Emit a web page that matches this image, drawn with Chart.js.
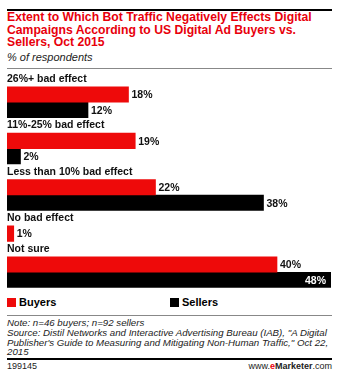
<!DOCTYPE html>
<html>
<head>
<meta charset="utf-8">
<script src="https://cdn.jsdelivr.net/npm/chart.js@4"></script>
<style>
  body { margin: 0; width: 345px; height: 381px; background: #fff; position: relative; overflow: hidden;
         font-family: "Liberation Sans", Arial, sans-serif; }
  .rule { position: absolute; left: 7px; width: 325px; }
  #title { position: absolute; left: 7px; top: 11px; color: #e8000b; font-weight: bold;
           font-size: 12.2px; line-height: 12.5px; white-space: nowrap; }
  #sub { position: absolute; left: 7px; top: 51px; font-style: italic; font-size: 11px; color: #222; }
  #chartBox { position: absolute; left: -8px; top: 65px; width: 353px; height: 229px; }
  #legend { position: absolute; left: 7px; top: 296px; font-size: 11px; font-weight: bold; }
  #legend span.item { position: absolute; white-space: nowrap; }
  #legend i { display: inline-block; width: 9px; height: 9px; margin-right: 3px; vertical-align: -1px; }
  #notes { position: absolute; left: 7px; top: 318px; font-style: italic; font-size: 9.7px;
           line-height: 9.8px; color: #222; white-space: nowrap; }
  #foot { position: absolute; left: 7px; right: 13px; top: 361px; font-size: 9px; color: #222; }
  #foot .r { position: absolute; right: 0; top: 0; }
</style>
</head>
<body>
<div class="rule" style="top:9px;height:2px;background:#000"></div>
<div id="title">Extent to Which Bot Traffic Negatively Effects Digital<br>Campaigns According to US Digital Ad Buyers vs.<br>Sellers, Oct 2015</div>
<div id="sub">% of respondents</div>
<div class="rule" style="top:68px;height:1px;background:#888"></div>

<div id="chartBox"><canvas id="chart"></canvas></div>

<div id="legend"></div>
<div class="rule" style="top:315px;height:1px;background:#888"></div>
<div id="notes">Note: n=46 buyers; n=92 sellers<br>Source: Distil Networks and Interactive Advertising Bureau (IAB), "A Digital<br>Publisher's Guide to Measuring and Mitigating Non-Human Traffic," Oct 22,<br>2015</div>
<div class="rule" style="top:358px;height:2px;background:#000"></div>
<div id="foot">199145<span class="r">www.<b style="color:#e8000b">e</b><b>Marketer</b>.com</span></div>

<script>
const categories = ["26%+ bad effect", "11%-25% bad effect", "Less than 10% bad effect", "No bad effect", "Not sure"];
const buyers = [18, 19, 22, 1, 40];
const sellers = [12, 2, 38, null, 48];
const seriesNames = ["Buyers", "Sellers"];
const seriesColors = ["#ee0a0a", "#000000"];

// one row per category label, then one row per bar
const rows = [];
categories.forEach((cat, i) => {
    rows.push({ label: cat, buyer: null, seller: null });
    if (buyers[i] !== null) rows.push({ label: "", buyer: buyers[i], seller: null });
    if (sellers[i] !== null) rows.push({ label: "", buyer: null, seller: sellers[i] });
});

const valueLabels = {
    id: "valueLabels",
    afterDatasetsDraw(chart) {
        const ctx = chart.ctx;
        ctx.save();
        ctx.font = "bold 10.5px 'Liberation Sans', Arial, sans-serif";
        ctx.textBaseline = "middle";
        chart.data.datasets.forEach((ds, di) => {
            chart.getDatasetMeta(di).data.forEach((bar, i) => {
                const v = ds.data[i];
                if (v === null) return;
                const txt = v + "%";
                const w = ctx.measureText(txt).width;
                if (bar.x + w + 3 > chart.chartArea.right) {
                    ctx.fillStyle = "#fff";
                    ctx.textAlign = "right";
                    ctx.fillText(txt, bar.x - 5, bar.y + 1);
                } else {
                    ctx.fillStyle = "#111";
                    ctx.textAlign = "left";
                    ctx.fillText(txt, bar.x + 3, bar.y + 1);
                }
            });
        });
        ctx.restore();
    }
};

new Chart(document.getElementById("chart"), {
    type: "bar",
    data: {
        labels: rows.map(r => r.label),
        datasets: [
            { label: seriesNames[0], data: rows.map(r => r.buyer), backgroundColor: seriesColors[0] },
            { label: seriesNames[1], data: rows.map(r => r.seller), backgroundColor: seriesColors[1] }
        ]
    },
    options: {
        indexAxis: "y",
        responsive: true,
        maintainAspectRatio: false,
        animation: false,
        grouped: false,
        barPercentage: 1,
        categoryPercentage: 1,
        layout: { padding: { left: 7, right: 14, top: 0, bottom: 0 } },
        scales: {
            x: { display: false, min: 0, max: 48 },
            y: {
                grid: { display: false },
                border: { display: false },
                ticks: {
                    mirror: true,
                    padding: 0,
                    autoSkip: false,
                    color: "#111",
                    font: { family: "'Liberation Sans', Arial, sans-serif", size: 10.5, weight: "bold" }
                }
            }
        },
        plugins: {
            legend: { display: false },
            tooltip: { enabled: false }
        }
    },
    plugins: [valueLabels]
});

const legend = document.getElementById("legend");
const legendX = [0, 163];
seriesNames.forEach((name, i) => {
    const item = document.createElement("span");
    item.className = "item";
    item.style.left = legendX[i] + "px";
    item.innerHTML = '<i style="background:' + seriesColors[i] + '"></i>' + name;
    legend.appendChild(item);
});
</script>
</body>
</html>
